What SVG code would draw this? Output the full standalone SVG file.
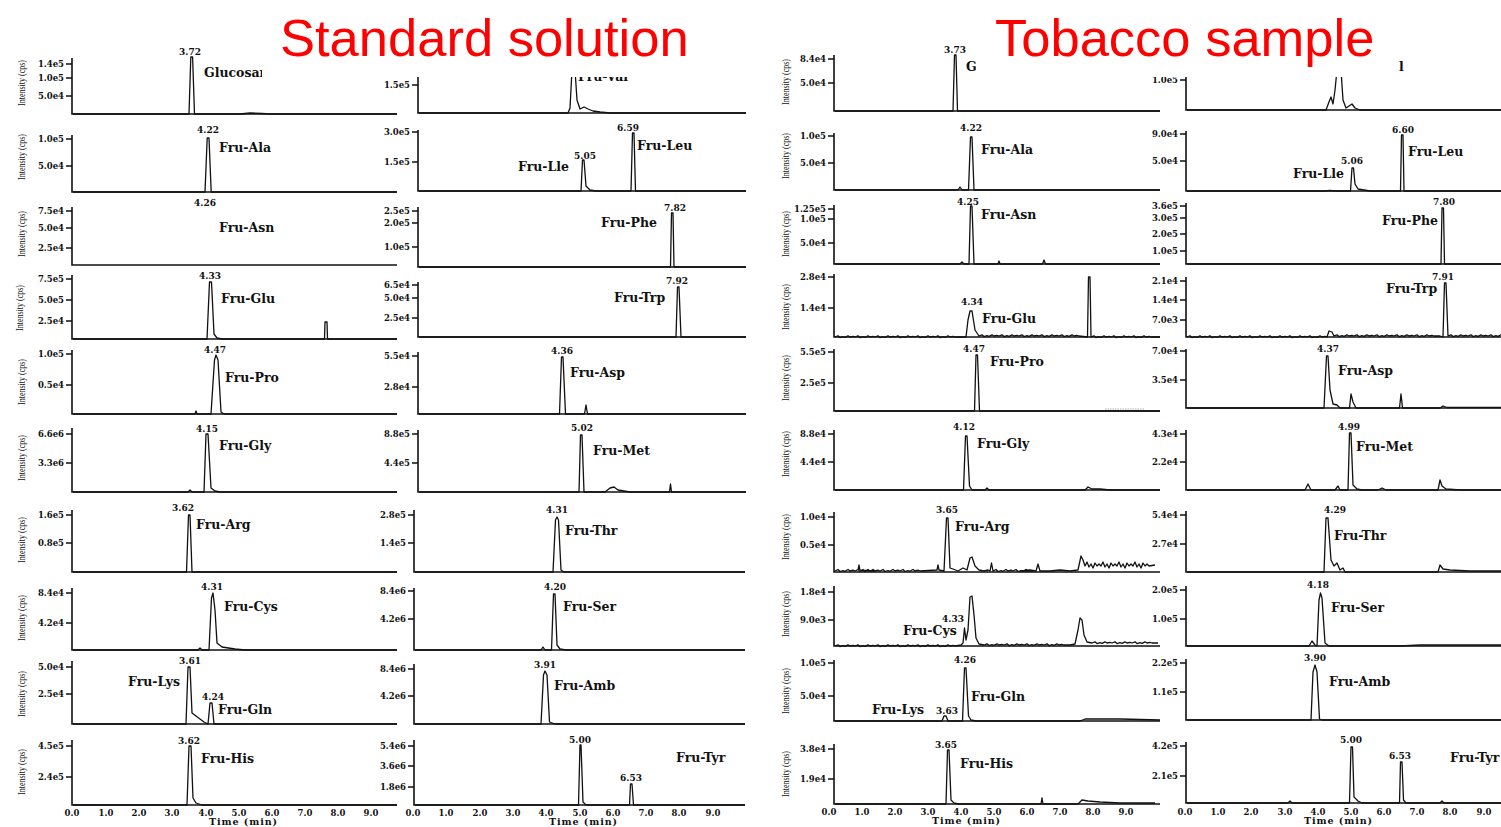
<svg xmlns="http://www.w3.org/2000/svg" width="1501" height="827" viewBox="0 0 1501 827">
<style>
.ax{fill:none;stroke:#111;stroke-width:1.6}
.tr{fill:none;stroke:#111;stroke-width:1.3;stroke-linejoin:round}
.tk{font-family:"DejaVu Serif",serif;font-weight:bold;font-size:8.5px;text-anchor:end;fill:#111}
.rt{font-family:"DejaVu Serif",serif;font-weight:bold;font-size:9px;text-anchor:middle;fill:#111}
.lb{font-family:"DejaVu Serif",serif;font-weight:bold;font-size:12.5px;fill:#111}
.yl{font-family:"Liberation Serif",serif;font-size:10.5px;text-anchor:middle;fill:#111}
.xt{font-family:"DejaVu Serif",serif;font-weight:bold;font-size:8.5px;text-anchor:middle;fill:#111}
.xl{font-family:"DejaVu Serif",serif;font-weight:bold;font-size:9.5px;text-anchor:middle;fill:#111}
.ttl{font-family:"Liberation Sans",Arial,sans-serif;font-size:52.5px;fill:#ff0000}
</style>
<rect width="1501" height="827" fill="#fff"/>

<!-- ===== Standard solution, column A ===== -->
<g id="std-glucosamine">
<path class="ax" d="M72,58 V114 H397 M66,64 H72 M66,78 H72 M66,96 H72"/>
<text class="tk" x="64" y="67">1.4e5</text><text class="tk" x="64" y="81">1.0e5</text><text class="tk" x="64" y="99">5.0e4</text>
<text class="yl" transform="translate(22,83) rotate(-90)" y="3" textLength="46" lengthAdjust="spacingAndGlyphs">Intensity (cps)</text>
<path class="tr" d="M73,114 H189 L190.8,57 L192.6,57 L194.5,114 H240 L250,113 L262,113.5 L270,114 H397"/>
<text class="rt" x="190" y="55">3.72</text>
<text class="lb" x="204" y="77">Glucosamine</text>
</g>
<g id="std-fru-ala">
<path class="ax" d="M72,135 V192 H397 M66,139 H72 M66,166 H72"/>
<text class="tk" x="64" y="142">1.0e5</text><text class="tk" x="64" y="169">5.0e4</text>
<text class="yl" transform="translate(22,157) rotate(-90)" y="3" textLength="46" lengthAdjust="spacingAndGlyphs">Intensity (cps)</text>
<path class="tr" d="M73,192 H205 L207.2,138 L209,138 L211.2,192 H397"/>
<text class="rt" x="208" y="133">4.22</text>
<text class="lb" x="219" y="152">Fru-Ala</text>
</g>
<g id="std-fru-asn">
<path class="ax" d="M72,207 V265 H397 M66,211 H72 M66,228 H72 M66,248 H72"/>
<text class="tk" x="64" y="214">7.5e4</text><text class="tk" x="64" y="231">5.0e4</text><text class="tk" x="64" y="251">2.5e4</text>
<text class="yl" transform="translate(22,234) rotate(-90)" y="3" textLength="46" lengthAdjust="spacingAndGlyphs">Intensity (cps)</text>
<text class="rt" x="205" y="206">4.26</text>
<text class="lb" x="219" y="232">Fru-Asn</text>
</g>
<g id="std-fru-glu">
<path class="ax" d="M72,275 V339 H397 M66,279 H72 M66,300 H72 M66,321 H72"/>
<text class="tk" x="64" y="282">7.5e5</text><text class="tk" x="64" y="303">5.0e5</text><text class="tk" x="64" y="324">2.5e4</text>
<text class="yl" transform="translate(20,308) rotate(-90)" y="3" textLength="46" lengthAdjust="spacingAndGlyphs">Intensity (cps)</text>
<path class="tr" d="M73,339 H207 L209.5,282 L211.5,282 L214,334 L217,338 L222,339 H324.5 L325,322 L327,322 L327.5,339 H397"/>
<text class="rt" x="210" y="279">4.33</text>
<text class="lb" x="221" y="303">Fru-Glu</text>
</g>
<g id="std-fru-pro">
<path class="ax" d="M72,350 V414 H397 M66,354 H72 M66,385 H72"/>
<text class="tk" x="64" y="357">1.0e5</text><text class="tk" x="64" y="388">0.5e4</text>
<text class="yl" transform="translate(22,382) rotate(-90)" y="3" textLength="46" lengthAdjust="spacingAndGlyphs">Intensity (cps)</text>
<path class="tr" d="M73,414 H195 L196,411 L197,414 H211 L214.5,360 L216,355 L218,360 L221,412 L224,414 H397"/>
<text class="rt" x="215" y="353">4.47</text>
<text class="lb" x="225" y="382">Fru-Pro</text>
</g>
<g id="std-fru-gly">
<path class="ax" d="M72,428 V492 H397 M66,434 H72 M66,463 H72"/>
<text class="tk" x="64" y="437">6.6e6</text><text class="tk" x="64" y="466">3.3e6</text>
<text class="yl" transform="translate(22,458) rotate(-90)" y="3" textLength="46" lengthAdjust="spacingAndGlyphs">Intensity (cps)</text>
<path class="tr" d="M73,492 H188 L190,490 L192,492 H204 L206,434 L208,434 L211,488 L215,491 L220,492 H397"/>
<text class="rt" x="207" y="432">4.15</text>
<text class="lb" x="219" y="450">Fru-Gly</text>
</g>
<g id="std-fru-arg">
<path class="ax" d="M72,510 V572 H397 M66,515 H72 M66,543 H72"/>
<text class="tk" x="64" y="518">1.6e5</text><text class="tk" x="64" y="546">0.8e5</text>
<text class="yl" transform="translate(22,540) rotate(-90)" y="3" textLength="46" lengthAdjust="spacingAndGlyphs">Intensity (cps)</text>
<path class="tr" d="M73,572 H186.5 L188.5,515 L190,515 L192,572 H397"/>
<text class="rt" x="183" y="511">3.62</text>
<text class="lb" x="196" y="529">Fru-Arg</text>
</g>
<g id="std-fru-cys">
<path class="ax" d="M72,588 V650 H397 M66,593 H72 M66,623 H72"/>
<text class="tk" x="64" y="596">8.4e4</text><text class="tk" x="64" y="626">4.2e4</text>
<text class="yl" transform="translate(22,618) rotate(-90)" y="3" textLength="46" lengthAdjust="spacingAndGlyphs">Intensity (cps)</text>
<path class="tr" d="M73,650 H198 L200,648 L202,650 H209 L211.5,598 L213,593 L215,610 L217,643 L222,647 L235,649 L245,650 H397"/>
<text class="rt" x="212" y="590">4.31</text>
<text class="lb" x="224" y="611">Fru-Cys</text>
</g>
<g id="std-fru-lys-gln">
<path class="ax" d="M72,661 V724 H397 M66,667 H72 M66,694 H72"/>
<text class="tk" x="64" y="670">5.0e4</text><text class="tk" x="64" y="697">2.5e4</text>
<text class="yl" transform="translate(22,694) rotate(-90)" y="3" textLength="46" lengthAdjust="spacingAndGlyphs">Intensity (cps)</text>
<path class="tr" d="M73,724 H186 L188,667 L190,667 L192,713 L196,716 L204,722 L208,724 L210,703 L212,703 L214,724 H397"/>
<text class="rt" x="190" y="664">3.61</text>
<text class="rt" x="213" y="700">4.24</text>
<text class="lb" x="128" y="686">Fru-Lys</text>
<text class="lb" x="218" y="714">Fru-Gln</text>
</g>
<g id="std-fru-his">
<path class="ax" d="M72,740 V805 H397 M66,746 H72 M66,777 H72"/>
<text class="tk" x="64" y="749">4.5e5</text><text class="tk" x="64" y="780">2.4e5</text>
<text class="yl" transform="translate(22,772) rotate(-90)" y="3" textLength="46" lengthAdjust="spacingAndGlyphs">Intensity (cps)</text>
<path class="tr" d="M73,805 H187 L189,746 L191,746 L193,798 L196,803 L202,805 H397"/>
<text class="rt" x="189" y="744">3.62</text>
<text class="lb" x="201" y="763">Fru-His</text>
</g>
<g id="std-time-axis-a">
<text class="xt" x="72" y="816">0.0</text><text class="xt" x="106" y="816">1.0</text><text class="xt" x="139" y="816">2.0</text><text class="xt" x="172" y="816">3.0</text><text class="xt" x="206" y="816">4.0</text><text class="xt" x="239" y="816">5.0</text><text class="xt" x="272" y="816">6.0</text><text class="xt" x="305" y="816">7.0</text><text class="xt" x="338" y="816">8.0</text><text class="xt" x="371" y="816">9.0</text>
<text class="xl" x="243" y="825" textLength="68">Time (min)</text>
</g>

<!-- ===== Standard solution, column B ===== -->
<g id="std-fru-val">
<path class="ax" d="M418,70 V113 H746 M412,85 H418"/>
<text class="tk" x="410" y="88">1.5e5</text>
<path class="tr" d="M419,113 H568 L570,108 L572,70 L575,70 L577,100 L580,109 L584,107 L588,109 L593,111 L600,112 L610,113 H746"/>
<text class="lb" x="578" y="81">Fru-Val</text>
</g>
<g id="std-fru-lle-leu">
<path class="ax" d="M418,130 V191 H746 M412,132 H418 M412,162 H418"/>
<text class="tk" x="410" y="135">3.0e5</text><text class="tk" x="410" y="165">1.5e5</text>
<path class="tr" d="M419,191 H581 L582.5,160 L584,160 L586,186 L590,190 L596,191 H631 L632.5,133 L634,133 L635.5,191 H746"/>
<text class="rt" x="585" y="159">5.05</text>
<text class="rt" x="628" y="131">6.59</text>
<text class="lb" x="518" y="171">Fru-Lle</text>
<text class="lb" x="637" y="150">Fru-Leu</text>
</g>
<g id="std-fru-phe">
<path class="ax" d="M418,207 V267 H746 M412,211 H418 M412,223 H418 M412,247 H418"/>
<text class="tk" x="410" y="214">2.5e5</text><text class="tk" x="410" y="226">2.0e5</text><text class="tk" x="410" y="250">1.0e5</text>
<path class="tr" d="M419,267 H670.5 L671.5,213 L673,213 L674,267 H746"/>
<text class="rt" x="675" y="211">7.82</text>
<text class="lb" x="601" y="227">Fru-Phe</text>
</g>
<g id="std-fru-trp">
<path class="ax" d="M418,282 V337 H746 M412,285 H418 M412,298 H418 M412,318 H418"/>
<text class="tk" x="410" y="288">6.5e4</text><text class="tk" x="410" y="301">5.0e4</text><text class="tk" x="410" y="321">2.5e4</text>
<path class="tr" d="M419,337 H676 L677.5,287 L679,287 L681,337 H746"/>
<text class="rt" x="677" y="284">7.92</text>
<text class="lb" x="614" y="302">Fru-Trp</text>
</g>
<g id="std-fru-asp">
<path class="ax" d="M418,352 V414 H746 M412,356 H418 M412,387 H418"/>
<text class="tk" x="410" y="359">5.5e4</text><text class="tk" x="410" y="390">2.8e4</text>
<path class="tr" d="M419,414 H559.5 L561.5,357 L563,357 L565.5,414 H584.5 L586,405 L587.5,414 H746"/>
<text class="rt" x="562" y="354">4.36</text>
<text class="lb" x="570" y="377">Fru-Asp</text>
</g>
<g id="std-fru-met">
<path class="ax" d="M418,430 V492 H746 M412,434 H418 M412,463 H418"/>
<text class="tk" x="410" y="437">8.8e5</text><text class="tk" x="410" y="466">4.4e5</text>
<path class="tr" d="M419,492 H579 L580.5,435 L582,435 L584,492 H605 L610,488 L614,487 L618,490 L624,491 L630,492 H669.5 L670.5,484 L671.5,492 H746"/>
<text class="rt" x="582" y="431">5.02</text>
<text class="lb" x="593" y="455">Fru-Met</text>
</g>
<g id="std-fru-thr">
<path class="ax" d="M414,510 V572 H745 M408,515 H414 M408,543 H414"/>
<text class="tk" x="406" y="518">2.8e5</text><text class="tk" x="406" y="546">1.4e5</text>
<path class="tr" d="M415,572 H553 L555.5,520 L557,517 L558.5,520 L561,570 L564,572 H745"/>
<text class="rt" x="557" y="513">4.31</text>
<text class="lb" x="565" y="535">Fru-Thr</text>
</g>
<g id="std-fru-ser">
<path class="ax" d="M414,588 V650 H745 M408,591 H414 M408,619 H414"/>
<text class="tk" x="406" y="594">8.4e6</text><text class="tk" x="406" y="622">4.2e6</text>
<path class="tr" d="M415,650 H541 L543,647 L545,650 H551.5 L553.5,594 L555,594 L557,645 L560,649 L566,650 H745"/>
<text class="rt" x="555" y="590">4.20</text>
<text class="lb" x="563" y="611">Fru-Ser</text>
</g>
<g id="std-fru-amb">
<path class="ax" d="M414,664 V724 H745 M408,669 H414 M408,696 H414"/>
<text class="tk" x="406" y="672">8.4e6</text><text class="tk" x="406" y="699">4.2e6</text>
<path class="tr" d="M415,724 H541 L543.5,675 L545,671 L547,675 L549.5,722 L555,724 H745"/>
<text class="rt" x="545" y="668">3.91</text>
<text class="lb" x="554" y="690">Fru-Amb</text>
</g>
<g id="std-fru-tyr">
<path class="ax" d="M414,740 V805 H745 M408,746 H414 M408,766 H414 M408,787 H414"/>
<text class="tk" x="406" y="749">5.4e6</text><text class="tk" x="406" y="769">3.6e6</text><text class="tk" x="406" y="790">1.8e6</text>
<path class="tr" d="M415,805 H578.5 L580,745 L581,745 L583,802 L586,805 H629.5 L630.5,784 L632,784 L633.5,805 H745"/>
<text class="rt" x="580" y="743">5.00</text>
<text class="rt" x="631" y="781">6.53</text>
<text class="lb" x="676" y="762">Fru-Tyr</text>
</g>
<g id="std-time-axis-b">
<text class="xt" x="413" y="816">0.0</text><text class="xt" x="446" y="816">1.0</text><text class="xt" x="480" y="816">2.0</text><text class="xt" x="513" y="816">3.0</text><text class="xt" x="546" y="816">4.0</text><text class="xt" x="580" y="816">5.0</text><text class="xt" x="613" y="816">6.0</text><text class="xt" x="646" y="816">7.0</text><text class="xt" x="679" y="816">8.0</text><text class="xt" x="713" y="816">9.0</text>
<text class="xl" x="583" y="825" textLength="68">Time (min)</text>
</g>

<!-- ===== Tobacco sample, column C ===== -->
<g id="tob-glucosamine">
<path class="ax" d="M834,55 V111 H1160 M828,59 H834 M828,83 H834"/>
<text class="tk" x="826" y="62">8.4e4</text><text class="tk" x="826" y="86">5.0e4</text>
<text class="yl" transform="translate(786,82) rotate(-90)" y="3" textLength="46" lengthAdjust="spacingAndGlyphs">Intensity (cps)</text>
<path class="tr" d="M835,111 H953 L954.5,55 L956,55 L957.5,111 H1160"/>
<text class="rt" x="955" y="53">3.73</text>
<text class="lb" x="966" y="71">G</text>
</g>
<g id="tob-fru-ala">
<path class="ax" d="M834,133 V190 H1160 M828,136 H834 M828,163 H834"/>
<text class="tk" x="826" y="139">1.0e5</text><text class="tk" x="826" y="166">5.0e4</text>
<text class="yl" transform="translate(786,156) rotate(-90)" y="3" textLength="46" lengthAdjust="spacingAndGlyphs">Intensity (cps)</text>
<path class="tr" d="M835,190 H958 L960,187 L962,190 H968.5 L970.5,137 L972,137 L974,190 H1160"/>
<text class="rt" x="971" y="131">4.22</text>
<text class="lb" x="981" y="154">Fru-Ala</text>
</g>
<g id="tob-fru-asn">
<path class="ax" d="M834,205 V264 H1160 M828,209 H834 M828,219 H834 M828,243 H834"/>
<text class="tk" x="826" y="212">1.25e5</text><text class="tk" x="826" y="222">1.0e5</text><text class="tk" x="826" y="246">5.0e4</text>
<text class="yl" transform="translate(786,234) rotate(-90)" y="3" textLength="46" lengthAdjust="spacingAndGlyphs">Intensity (cps)</text>
<path class="tr" d="M835,264 H960 L962,262 L964,264 H969 L970.5,206 L972,206 L974,264 H998 L999,261 L1000,264 H1042.5 L1044,260 L1045.5,264 H1160"/>
<text class="rt" x="968" y="205">4.25</text>
<text class="lb" x="981" y="219">Fru-Asn</text>
</g>
<g id="tob-fru-glu">
<path class="ax" d="M834,274 V337 H1160 M828,277 H834 M828,308 H834"/>
<text class="tk" x="826" y="280">2.8e4</text><text class="tk" x="826" y="311">1.4e4</text>
<text class="yl" transform="translate(786,307) rotate(-90)" y="3" textLength="46" lengthAdjust="spacingAndGlyphs">Intensity (cps)</text>
<path class="tr" d="M835,337 l3,-1.2 l2,1.8 l3,-0.9 l2,0.6 l3,-1.5 l2,1.2 l3,-0.6 l2,0.6 l3,-1.2 l2,1.8 l3,-0.9 l2,0.6 l3,-1.5 l2,1.2 l3,-0.6 l2,0.6 l3,-1.2 l2,1.8 l3,-0.9 l2,0.6 l3,-1.5 l2,1.2 l3,-0.6 l2,0.6 l3,-1.2 l2,1.8 l3,-0.9 l2,0.6 l3,-1.5 l2,1.2 l3,-0.6 l2,0.6 l3,-1.2 l2,1.8 l3,-0.9 l2,0.6 l3,-1.5 l2,1.2 l3,-0.6 l2,0.6 l3,-1.2 l2,1.8 l3,-0.9 l2,0.6 l3,-1.5 l2,1.2 l3,-0.6 l2,0.6 L966,337 L968,320 L970,311 L972,311 L975,330 L979,336 l3,-1.2 l2,1.8 l3,-0.9 l2,0.6 l3,-1.5 l2,1.2 l3,-0.6 l2,0.6 l3,-1.2 l2,1.8 l3,-0.9 l2,0.6 l3,-1.5 l2,1.2 l3,-0.6 l2,0.6 l3,-1.2 l2,1.8 l3,-0.9 l2,0.6 l3,-1.5 l2,1.2 l3,-0.6 l2,0.6 l3,-1.2 l2,1.8 l3,-0.9 l2,0.6 l3,-1.5 l2,1.2 l3,-0.6 l2,0.6 l3,-1.2 l2,1.8 l3,-0.9 l2,0.6 l3,-1.5 l2,1.2 l3,-0.6 l2,0.6 L1087.5,337 L1088.5,277 L1090,277 L1091,337 l3,-1.2 l2,1.8 l3,-0.9 l2,0.6 l3,-1.5 l2,1.2 l3,-0.6 l2,0.6 l3,-1.2 l2,1.8 l3,-0.9 l2,0.6 l3,-1.5 l2,1.2 l3,-0.6 l2,0.6 l3,-1.2 l2,1.8 l3,-0.9 l2,0.6 l3,-1.5 l2,1.2 l3,-0.6 l2,0.6 L1160,337"/>
<text class="rt" x="972" y="305">4.34</text>
<text class="lb" x="982" y="323">Fru-Glu</text>
</g>
<g id="tob-fru-pro">
<path class="ax" d="M834,349 V411 H1160 M828,352 H834 M828,383 H834"/>
<text class="tk" x="826" y="355">5.5e5</text><text class="tk" x="826" y="386">2.5e5</text>
<text class="yl" transform="translate(786,378) rotate(-90)" y="3" textLength="46" lengthAdjust="spacingAndGlyphs">Intensity (cps)</text>
<path class="tr" d="M835,411 H974.5 L976,355 L977.5,355 L979.5,411 H1160"/>
<path d="M1105,409 H1145" stroke="#999" stroke-width="0.8" stroke-dasharray="1.5,1"/>
<text class="rt" x="974" y="352">4.47</text>
<text class="lb" x="990" y="366">Fru-Pro</text>
</g>
<g id="tob-fru-gly">
<path class="ax" d="M834,430 V490 H1160 M828,434 H834 M828,462 H834"/>
<text class="tk" x="826" y="437">8.8e4</text><text class="tk" x="826" y="465">4.4e4</text>
<text class="yl" transform="translate(786,454) rotate(-90)" y="3" textLength="46" lengthAdjust="spacingAndGlyphs">Intensity (cps)</text>
<path class="tr" d="M835,490 H963.5 L965.5,436 L967,436 L969.5,486 L972,490 H985 L987,488 L989,490 H1085 L1088,487 L1092,489 L1100,489 L1110,490 H1160"/>
<text class="rt" x="964" y="430">4.12</text>
<text class="lb" x="977" y="448">Fru-Gly</text>
</g>
<g id="tob-fru-arg">
<path class="ax" d="M834,512 V572 H1160 M828,517 H834 M828,545 H834"/>
<text class="tk" x="826" y="520">1.0e4</text><text class="tk" x="826" y="548">0.5e4</text>
<text class="yl" transform="translate(786,537) rotate(-90)" y="3" textLength="46" lengthAdjust="spacingAndGlyphs">Intensity (cps)</text>
<path class="tr" d="M835,571 l3,-1.5 l2,2 l3,-1 l2,0.8 l3,-1.8 l2,1.5 l3,-0.8 l2,0.8 l3,-1.5 l2,2 l3,-1 l2,0.8 l3,-1.8 l2,1.5 l3,-0.8 l2,0.8 L858,570 L859,565 L860,571 l3,-1.5 l2,2 l3,-1 l2,0.8 l3,-1.8 l2,1.5 l3,-0.8 l2,0.8 l3,-1.5 l2,2 l3,-1 l2,0.8 l3,-1.8 l2,1.5 l3,-0.8 l2,0.8 l3,-1.5 l2,2 l3,-1 l2,0.8 l3,-1.8 l2,1.5 l3,-0.8 l2,0.8 L937,570 L938,565 L939,570 L944,571 L946.5,518 L948,518 L950,568 L953,569 L958,571 L963,568 L967,570 L970,558 L972,557 L975,566 L979,570 L984,571 L988,570 L990,571 L991.5,563 L993,571 l3,-1.5 l2,2 l3,-1 l2,0.8 l3,-1.8 l2,1.5 l3,-0.8 l2,0.8 l3,-1.5 l2,2 l3,-1 l2,0.8 l3,-1.8 l2,1.5 l3,-0.8 l2,0.8 L1020,571 L1030,570 L1036,571 L1038,564 L1040,571 L1050,571 L1060,570 L1070,571 L1078,570 L1081,556 L1083,560 L1085,566 l2,-4 l2,5 l2,-3 l2,4 l2,-5 l2,3 l2,-2 l2,2 l2,-4 l2,5 l2,-3 l2,4 l2,-5 l2,3 l2,-2 l2,2 l2,-4 l2,5 l2,-3 l2,4 l2,-5 l2,3 l2,-2 l2,2 l2,-4 l2,5 l2,-3 l2,4 l2,-5 l2,3 l2,-2 l2,2 L1155,565"/>
<text class="rt" x="947" y="513">3.65</text>
<text class="lb" x="955" y="531">Fru-Arg</text>
</g>
<g id="tob-fru-cys">
<path class="ax" d="M834,586 V646 H1160 M828,592 H834 M828,620 H834"/>
<text class="tk" x="826" y="595">1.8e4</text><text class="tk" x="826" y="623">9.0e3</text>
<text class="yl" transform="translate(786,614) rotate(-90)" y="3" textLength="46" lengthAdjust="spacingAndGlyphs">Intensity (cps)</text>
<path class="tr" d="M835,646 l3,-1.2 l2,1.8 l3,-0.9 l2,0.6 l3,-1.5 l2,1.2 l3,-0.6 l2,0.6 l3,-1.2 l2,1.8 l3,-0.9 l2,0.6 l3,-1.5 l2,1.2 l3,-0.6 l2,0.6 l3,-1.2 l2,1.8 l3,-0.9 l2,0.6 l3,-1.5 l2,1.2 l3,-0.6 l2,0.6 l3,-1.2 l2,1.8 l3,-0.9 l2,0.6 l3,-1.5 l2,1.2 l3,-0.6 l2,0.6 l3,-1.2 l2,1.8 l3,-0.9 l2,0.6 l3,-1.5 l2,1.2 l3,-0.6 l2,0.6 l3,-1.2 l2,1.8 l3,-0.9 l2,0.6 l3,-1.5 l2,1.2 l3,-0.6 l2,0.6 L961,645 L963,643 L964.5,628 L966,640 L968,630 L970,597 L972,596 L974,615 L976,638 L979,644 L984,645 l3,-1.2 l2,1.8 l3,-0.9 l2,0.6 l3,-1.5 l2,1.2 l3,-0.6 l2,0.6 l3,-1.2 l2,1.8 l3,-0.9 l2,0.6 l3,-1.5 l2,1.2 l3,-0.6 l2,0.6 l3,-1.2 l2,1.8 l3,-0.9 l2,0.6 l3,-1.5 l2,1.2 l3,-0.6 l2,0.6 l3,-1.2 l2,1.8 l3,-0.9 l2,0.6 l3,-1.5 l2,1.2 l3,-0.6 l2,0.6 L1070,645 L1075,644 L1078,630 L1080,618 L1082,620 L1084,635 L1087,642 L1092,643 l3,-1.2 l2,1.8 l3,-0.9 l2,0.6 l3,-1.5 l2,1.2 l3,-0.6 l2,0.6 l3,-1.2 l2,1.8 l3,-0.9 l2,0.6 l3,-1.5 l2,1.2 l3,-0.6 l2,0.6 l3,-1.2 l2,1.8 l3,-0.9 l2,0.6 l3,-1.5 l2,1.2 l3,-0.6 l2,0.6 L1158,643"/>
<text class="rt" x="953" y="622">4.33</text>
<text class="lb" x="903" y="635">Fru-Cys</text>
</g>
<g id="tob-fru-lys-gln">
<path class="ax" d="M834,660 V721 H1160 M828,663 H834 M828,696 H834"/>
<text class="tk" x="826" y="666">1.0e5</text><text class="tk" x="826" y="699">5.0e4</text>
<text class="yl" transform="translate(786,691) rotate(-90)" y="3" textLength="46" lengthAdjust="spacingAndGlyphs">Intensity (cps)</text>
<path class="tr" d="M835,721 H942 L944,716 L946,716 L948,721 H962.5 L964.5,668 L966,668 L968.5,716 L971,720 L976,721 H1080 L1085,719 L1120,719 L1160,720"/>
<text class="rt" x="965" y="663">4.26</text>
<text class="rt" x="947" y="714">3.63</text>
<text class="lb" x="872" y="714">Fru-Lys</text>
<text class="lb" x="971" y="701">Fru-Gln</text>
</g>
<g id="tob-fru-his">
<path class="ax" d="M834,744 V804 H1160 M828,749 H834 M828,779 H834"/>
<text class="tk" x="826" y="752">3.8e4</text><text class="tk" x="826" y="782">1.9e4</text>
<text class="yl" transform="translate(786,774) rotate(-90)" y="3" textLength="46" lengthAdjust="spacingAndGlyphs">Intensity (cps)</text>
<path class="tr" d="M835,804 H946 L947.5,750 L949,750 L951,800 L954,803 L958,804 H1041 L1042,798 L1043,804 H1078 L1082,800 L1088,801 L1100,802 L1120,803 L1155,803"/>
<text class="rt" x="946" y="748">3.65</text>
<text class="lb" x="960" y="768">Fru-His</text>
</g>
<g id="tob-time-axis-c">
<text class="xt" x="829" y="815">0.0</text><text class="xt" x="862" y="815">1.0</text><text class="xt" x="895" y="815">2.0</text><text class="xt" x="928" y="815">3.0</text><text class="xt" x="961" y="815">4.0</text><text class="xt" x="994" y="815">5.0</text><text class="xt" x="1027" y="815">6.0</text><text class="xt" x="1060" y="815">7.0</text><text class="xt" x="1093" y="815">8.0</text><text class="xt" x="1126" y="815">9.0</text>
<text class="xl" x="966" y="824" textLength="68">Time (min)</text>
</g>

<!-- ===== Tobacco sample, column D ===== -->
<g id="tob-fru-val">
<path class="ax" d="M1186,70 V110 H1501 M1180,80 H1186"/>
<text class="tk" x="1178" y="83">1.0e5</text>
<path class="tr" d="M1187,110 H1326 L1329,102 L1331,97 L1333,104 L1335,90 L1337,70 L1341,70 L1343,100 L1346,108 L1349,106 L1352,104 L1355,108 L1360,110 H1501"/>
<text class="lb" x="1399" y="71">l</text>
</g>
<g id="tob-fru-lle-leu">
<path class="ax" d="M1186,131 V191 H1501 M1180,134 H1186 M1180,161 H1186"/>
<text class="tk" x="1178" y="137">9.0e4</text><text class="tk" x="1178" y="164">5.0e4</text>
<path class="tr" d="M1187,191 H1325 L1330,190.5 L1335,191 H1350.5 L1352,168 L1353.5,168 L1355,184 L1358,189 L1364,190 L1370,191 H1400.5 L1401.5,135 L1403,135 L1404,191 H1501"/>
<text class="rt" x="1352" y="164">5.06</text>
<text class="rt" x="1403" y="133">6.60</text>
<text class="lb" x="1293" y="178">Fru-Lle</text>
<text class="lb" x="1408" y="156">Fru-Leu</text>
</g>
<g id="tob-fru-phe">
<path class="ax" d="M1186,203 V264 H1501 M1180,206 H1186 M1180,218 H1186 M1180,234 H1186 M1180,251 H1186"/>
<text class="tk" x="1178" y="209">3.6e5</text><text class="tk" x="1178" y="221">3.0e5</text><text class="tk" x="1178" y="237">2.0e5</text><text class="tk" x="1178" y="254">1.0e5</text>
<path class="tr" d="M1187,264 H1441 L1442,208 L1443.5,208 L1444.5,264 H1501"/>
<text class="rt" x="1444" y="205">7.80</text>
<text class="lb" x="1382" y="225">Fru-Phe</text>
</g>
<g id="tob-fru-trp">
<path class="ax" d="M1186,277 V337 H1501 M1180,281 H1186 M1180,300 H1186 M1180,320 H1186"/>
<text class="tk" x="1178" y="284">2.1e4</text><text class="tk" x="1178" y="303">1.4e4</text><text class="tk" x="1178" y="323">7.0e3</text>
<path class="tr" d="M1187,337 l3,-1.2 l2,1.8 l3,-0.9 l2,0.6 l3,-1.5 l2,1.2 l3,-0.6 l2,0.6 l3,-1.2 l2,1.8 l3,-0.9 l2,0.6 l3,-1.5 l2,1.2 l3,-0.6 l2,0.6 l3,-1.2 l2,1.8 l3,-0.9 l2,0.6 l3,-1.5 l2,1.2 l3,-0.6 l2,0.6 l3,-1.2 l2,1.8 l3,-0.9 l2,0.6 l3,-1.5 l2,1.2 l3,-0.6 l2,0.6 l3,-1.2 l2,1.8 l3,-0.9 l2,0.6 l3,-1.5 l2,1.2 l3,-0.6 l2,0.6 l3,-1.2 l2,1.8 l3,-0.9 l2,0.6 l3,-1.5 l2,1.2 l3,-0.6 l2,0.6 l3,-1.2 l2,1.8 l3,-0.9 l2,0.6 l3,-1.5 l2,1.2 l3,-0.6 l2,0.6 L1329,331 L1332,332 L1334,336 l3,-1.2 l2,1.8 l3,-0.9 l2,0.6 l3,-1.5 l2,1.2 l3,-0.6 l2,0.6 l3,-1.2 l2,1.8 l3,-0.9 l2,0.6 l3,-1.5 l2,1.2 l3,-0.6 l2,0.6 l3,-1.2 l2,1.8 l3,-0.9 l2,0.6 l3,-1.5 l2,1.2 l3,-0.6 l2,0.6 l3,-1.2 l2,1.8 l3,-0.9 l2,0.6 l3,-1.5 l2,1.2 l3,-0.6 l2,0.6 l3,-1.2 l2,1.8 l3,-0.9 l2,0.6 l3,-1.5 l2,1.2 l3,-0.6 l2,0.6 L1440,336 L1443,337 L1444.5,283 L1446,283 L1448,336 l3,-1.2 l2,1.8 l3,-0.9 l2,0.6 l3,-1.5 l2,1.2 l3,-0.6 l2,0.6 l3,-1.2 l2,1.8 l3,-0.9 l2,0.6 l3,-1.5 l2,1.2 l3,-0.6 l2,0.6 l3,-1.2 l2,1.8 l3,-0.9 l2,0.6 l3,-1.5 l2,1.2 l3,-0.6 l2,0.6 L1501,336"/>
<text class="rt" x="1443" y="280">7.91</text>
<text class="lb" x="1386" y="293">Fru-Trp</text>
</g>
<g id="tob-fru-asp">
<path class="ax" d="M1186,349 V408 H1501 M1180,351 H1186 M1180,380 H1186"/>
<text class="tk" x="1178" y="354">7.0e4</text><text class="tk" x="1178" y="383">3.5e4</text>
<path class="tr" d="M1187,408 H1324 L1326.5,356 L1328,356 L1330,390 L1333,404 L1337,405 L1340,408 H1349.5 L1351,394 L1353,402 L1356,408 H1399.5 L1401,394 L1402.5,408 H1440 L1443,406 L1447,407.5 H1501"/>
<text class="rt" x="1328" y="352">4.37</text>
<text class="lb" x="1338" y="375">Fru-Asp</text>
</g>
<g id="tob-fru-met">
<path class="ax" d="M1186,430 V490 H1501 M1180,434 H1186 M1180,462 H1186"/>
<text class="tk" x="1178" y="437">4.3e4</text><text class="tk" x="1178" y="465">2.2e4</text>
<path class="tr" d="M1187,490 H1305 L1308,484 L1311,490 H1335 L1338,486 L1340,490 H1348 L1349.5,433 L1351,433 L1353,485 L1357,489 L1362,490 H1378 L1382,488 L1386,490 H1438 L1440,480 L1442,486 L1446,489 L1460,490 H1501"/>
<text class="rt" x="1349" y="430">4.99</text>
<text class="lb" x="1356" y="451">Fru-Met</text>
</g>
<g id="tob-fru-thr">
<path class="ax" d="M1186,511 V572 H1501 M1180,515 H1186 M1180,544 H1186"/>
<text class="tk" x="1178" y="518">5.4e4</text><text class="tk" x="1178" y="547">2.7e4</text>
<path class="tr" d="M1187,572 H1324 L1326,518 L1328,518 L1331,560 L1334,566 L1337,563 L1340,570 L1343,568 L1345,572 H1438 L1440,565 L1443,569 L1450,570 L1470,571 H1501"/>
<text class="rt" x="1335" y="513">4.29</text>
<text class="lb" x="1334" y="540">Fru-Thr</text>
</g>
<g id="tob-fru-ser">
<path class="ax" d="M1186,586 V646 H1501 M1180,590 H1186 M1180,619 H1186"/>
<text class="tk" x="1178" y="593">2.0e5</text><text class="tk" x="1178" y="622">1.0e5</text>
<path class="tr" d="M1187,646 H1309 L1312,641 L1315,645 L1317,646 L1319,600 L1320.5,593 L1322,598 L1325,643 L1329,646 H1400 L1420,645 H1501"/>
<text class="rt" x="1318" y="588">4.18</text>
<text class="lb" x="1331" y="612">Fru-Ser</text>
</g>
<g id="tob-fru-amb">
<path class="ax" d="M1186,659 V720 H1501 M1180,663 H1186 M1180,692 H1186"/>
<text class="tk" x="1178" y="666">2.2e5</text><text class="tk" x="1178" y="695">1.1e5</text>
<path class="tr" d="M1187,720 H1311 L1313,672 L1315,665 L1317,672 L1319.5,719 L1322,720 H1501"/>
<text class="rt" x="1315" y="661">3.90</text>
<text class="lb" x="1329" y="686">Fru-Amb</text>
</g>
<g id="tob-fru-tyr">
<path class="ax" d="M1186,742 V803 H1501 M1180,746 H1186 M1180,776 H1186"/>
<text class="tk" x="1178" y="749">4.2e5</text><text class="tk" x="1178" y="779">2.1e5</text>
<path class="tr" d="M1187,803 H1288 L1290,801 L1292,803 H1349.5 L1351,747 L1352.5,747 L1354,797 L1358,801 L1362,803 H1399.5 L1400.5,762 L1402,762 L1403.5,800 L1406,803 H1440 L1442,801 L1444,803 H1501"/>
<text class="rt" x="1351" y="743">5.00</text>
<text class="rt" x="1400" y="759">6.53</text>
<text class="lb" x="1450" y="762">Fru-Tyr</text>
</g>
<g id="tob-time-axis-d">
<text class="xt" x="1185" y="815">0.0</text><text class="xt" x="1218" y="815">1.0</text><text class="xt" x="1251" y="815">2.0</text><text class="xt" x="1285" y="815">3.0</text><text class="xt" x="1318" y="815">4.0</text><text class="xt" x="1351" y="815">5.0</text><text class="xt" x="1384" y="815">6.0</text><text class="xt" x="1417" y="815">7.0</text><text class="xt" x="1450" y="815">8.0</text><text class="xt" x="1484" y="815">9.0</text>
<text class="xl" x="1338" y="824" textLength="68">Time (min)</text>
</g>

<!-- ===== Titles (white boxes overlap the top row) ===== -->
<g id="title-standard">
<rect x="262" y="0" width="488" height="77" fill="#fff"/>
<text class="ttl" x="280" y="56">Standard solution</text>
</g>
<g id="title-tobacco">
<rect x="976" y="0" width="421" height="77" fill="#fff"/>
<text class="ttl" x="995" y="56">Tobacco sample</text>
</g>
</svg>
